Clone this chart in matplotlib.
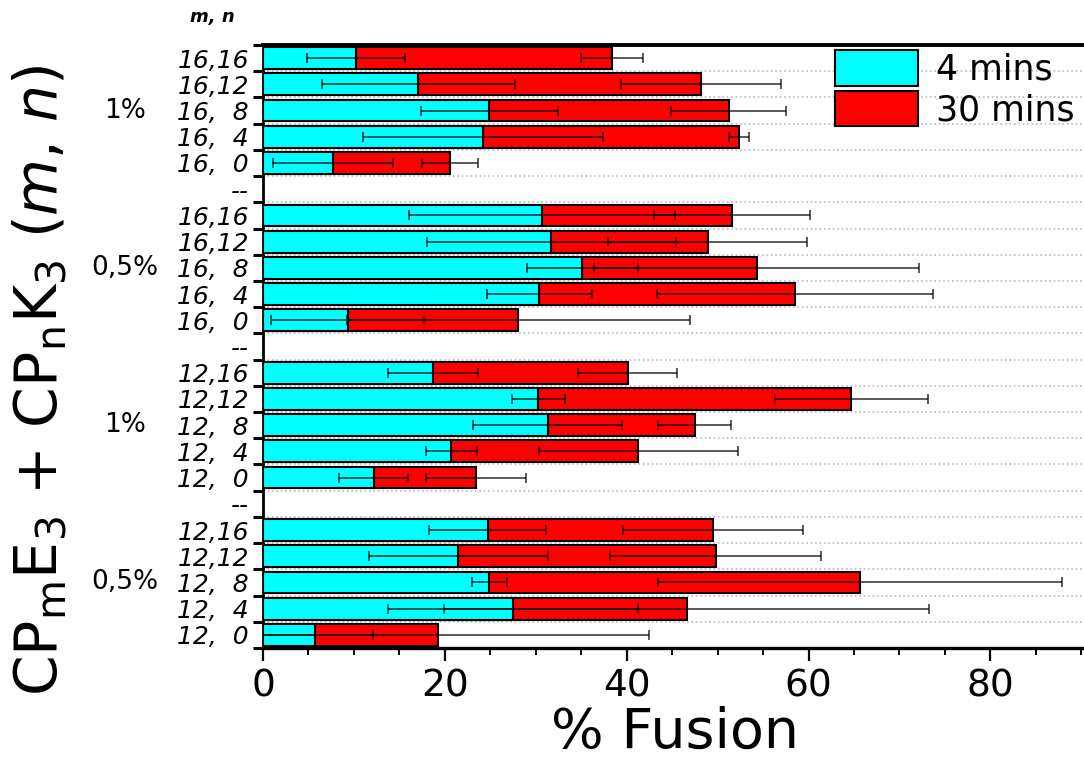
import matplotlib
matplotlib.use("Agg")
import matplotlib.pyplot as plt
from matplotlib.patches import Patch
import matplotlib.transforms as mtransforms

plt.rcParams['font.family'] = ['DejaVu Sans']
plt.rcParams['mathtext.fontset'] = 'dejavusans'

# Data (top to bottom inside each block: n = 16, 12, 8, 4, 0)
row_labels = ['16,16', '16,12', '16,  8', '16,  4', '16,  0', '--',
              '16,16', '16,12', '16,  8', '16,  4', '16,  0', '--',
              '12,16', '12,12', '12,  8', '12,  4', '12,  0', '--',
              '12,16', '12,12', '12,  8', '12,  4', '12,  0']
group_labels = ['1%', '0,5%', '1%', '0,5%']

# 4 mins
cyan_1_16 = [10.2, 17.1, 24.9, 24.2, 7.7]
cyan_05_16 = [30.7, 31.7, 35.1, 30.4, 9.3]
cyan_1_12 = [18.7, 30.3, 31.3, 20.7, 12.2]
cyan_05_12 = [24.7, 21.5, 24.9, 27.5, 5.7]
cyan_err_1_16 = [5.4, 10.6, 7.5, 13.2, 6.6]
cyan_err_05_16 = [14.6, 13.7, 6.1, 5.8, 8.4]
cyan_err_1_12 = [5.0, 2.9, 8.2, 2.8, 3.8]
cyan_err_05_12 = [6.4, 9.8, 1.9, 13.7, 6.4]

# 30 mins
red_1_16 = [38.4, 48.2, 51.2, 52.4, 20.6]
red_05_16 = [51.6, 48.9, 54.3, 58.5, 28.1]
red_1_12 = [40.1, 64.7, 47.5, 41.3, 23.4]
red_05_12 = [49.5, 49.8, 65.7, 46.6, 19.3]
red_err_1_16 = [3.4, 8.8, 6.3, 1.1, 3.1]
red_err_05_16 = [8.6, 10.9, 17.9, 15.2, 18.9]
red_err_1_12 = [5.4, 8.4, 4.0, 10.9, 5.5]
red_err_05_12 = [9.9, 11.6, 22.2, 26.7, 23.2]

cyan = cyan_1_16 + cyan_05_16 + cyan_1_12 + cyan_05_12
cyan_err = cyan_err_1_16 + cyan_err_05_16 + cyan_err_1_12 + cyan_err_05_12
red = red_1_16 + red_05_16 + red_1_12 + red_05_12
red_err = red_err_1_16 + red_err_05_16 + red_err_1_12 + red_err_05_12

# bar rows = every row that is not a separator
ypos = [i for i, lab in enumerate(row_labels) if lab != '--']

fig = plt.figure(figsize=(10.84, 7.6), dpi=100)
ax = fig.add_axes([263 / 1084, 112 / 760, 821 / 1084, 603 / 760])

h = 0.83
ax.barh(ypos, red, height=h, color='#ff0000', edgecolor='black', linewidth=1.5, zorder=2)
ax.barh(ypos, cyan, height=h, color='#00ffff', edgecolor='black', linewidth=1.5, zorder=3)
ax.errorbar(red, ypos, xerr=red_err, fmt='none', ecolor='black', alpha=0.7,
            elinewidth=1.3, capsize=3.5, capthick=1.3, zorder=4)
ax.errorbar(cyan, ypos, xerr=cyan_err, fmt='none', ecolor='black', alpha=0.7,
            elinewidth=1.3, capsize=3.5, capthick=1.3, zorder=4)

n = len(row_labels)
ax.set_ylim(n - 0.5, -0.5)
ax.set_xlim(0, 90.3)

# boundary ticks + grid, labels on row centres
ax.set_yticks([i - 0.5 for i in range(n + 1)])
ax.set_yticklabels([])
ax.set_yticks(range(n), minor=True)
ax.set_yticklabels(row_labels, minor=True, fontsize=18, style='italic')
ax.tick_params(axis='y', which='major', length=7, width=2.2, direction='out')
ax.tick_params(axis='y', which='minor', length=0, pad=10)
ax.yaxis.grid(True, which='major', linestyle=':', color='#bbbbbb', linewidth=1.2, zorder=0)
ax.set_axisbelow(True)

ax.set_xticks([0, 20, 40, 60, 80])
ax.set_xticks(range(0, 91, 5), minor=True)
ax.tick_params(axis='x', which='major', length=9, width=1.6, labelsize=27, pad=6)
ax.tick_params(axis='x', which='minor', length=5, width=1.4)

ax.spines['right'].set_visible(False)
ax.spines['top'].set_linewidth(2.8)
ax.spines['bottom'].set_linewidth(2.4)
ax.spines['left'].set_linewidth(2.0)

# concentration labels next to the middle row of each block
trans = mtransforms.blended_transform_factory(ax.transAxes, ax.transData)
for k, lab in enumerate(group_labels):
    ax.text(-0.168, ypos[k * 5 + 2], lab, transform=trans, ha='center', va='center', fontsize=19)

fig.text(212 / 1084, 1 - 17 / 760, 'm, n', ha='center', va='center', fontsize=13,
         fontweight='bold', style='italic')
fig.text(40 / 1084, 1 - 380 / 760, r'CP$_\mathregular{m}$E$_3$ + CP$_\mathregular{n}$K$_3$ ($m$, $n$)',
         rotation=90, ha='center', va='center', fontsize=42)
fig.text(675 / 1084, 1 - 733 / 760, '% Fusion', ha='center', va='center', fontsize=40)

handles = [Patch(facecolor='#00ffff', edgecolor='black', linewidth=1.5, label='4 mins'),
           Patch(facecolor='#ff0000', edgecolor='black', linewidth=1.5, label='30 mins')]
ax.legend(handles=handles, loc='upper left', bbox_to_anchor=(835 / 1084, 1 - 50 / 760),
          bbox_transform=fig.transFigure, frameon=False, fontsize=25, borderpad=0,
          borderaxespad=0, handlelength=2.4, handleheight=1.2, handletextpad=0.5,
          labelspacing=0.12)

fig.savefig('out.png', dpi=100)
